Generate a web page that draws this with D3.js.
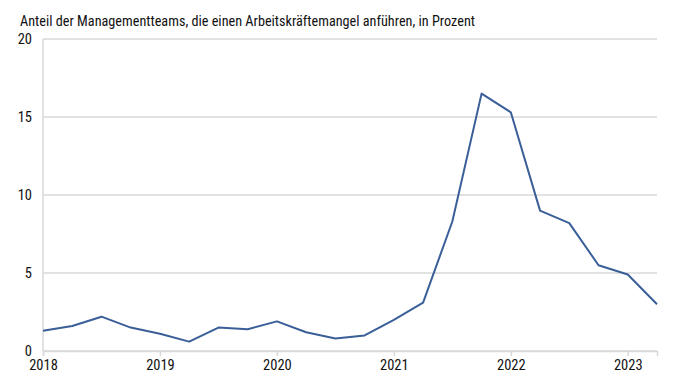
<!DOCTYPE html>
<html><head><meta charset="utf-8">
<script src="https://cdn.jsdelivr.net/npm/d3@7"></script>
<style>
body{margin:0;background:#fff;}
text{font-family:"Roboto Condensed","Liberation Sans Narrow","DejaVu Sans Condensed",sans-serif;fill:#111;}
</style></head>
<body><svg id="c" width="700" height="382"></svg>
<script>
const title = "Anteil der Managementteams, die einen Arbeitskräftemangel anführen, in Prozent";
const quarters = [2018.0,2018.25,2018.5,2018.75,2019.0,2019.25,2019.5,2019.75,2020.0,2020.25,2020.5,2020.75,2021.0,2021.25,2021.5,2021.75,2022.0,2022.25,2022.5,2022.75,2023.0,2023.25];
const values = [1.3,1.6,2.2,1.5,1.1,0.6,1.5,1.4,1.9,1.2,0.8,1.0,2.0,3.1,8.3,16.5,15.3,9.0,8.2,5.5,4.9,3.0];
const yTicks = [0,5,10,15,20];
const xTicks = [2018,2019,2020,2021,2022,2023];

const svg = d3.select("#c");
const x = d3.scaleLinear().domain([2018,2023.25]).range([43,657]);
const y = d3.scaleLinear().domain([0,20]).range([351,39]);

svg.append("text").attr("x",20).attr("y",26).attr("font-size",14.5)
  .attr("textLength",455).attr("lengthAdjust","spacingAndGlyphs").text(title);

// gridlines
svg.append("g").selectAll("line").data(yTicks).join("line")
  .attr("x1",x.range()[0]).attr("x2",x.range()[1])
  .attr("y1",d=>y(d)).attr("y2",d=>y(d))
  .attr("stroke","#d9d9d9").attr("stroke-width",1.5);

// y axis line
svg.append("line").attr("x1",43).attr("x2",43).attr("y1",y(20)).attr("y2",y(0))
  .attr("stroke","#d9d9d9").attr("stroke-width",1.5);

// y labels
svg.append("g").selectAll("text").data(yTicks).join("text")
  .attr("x",32).attr("y",d=>y(d)+5).attr("text-anchor","end").attr("font-size",14.5).text(d=>d);

// x axis
const xa = d3.axisBottom(x).tickValues(xTicks).tickFormat(d3.format("d")).tickSize(5).tickPadding(4);
const gx = svg.append("g").attr("transform",`translate(0,${y(0)})`).call(xa);
gx.select(".domain").attr("stroke","#d9d9d9").attr("stroke-width",1.5);
gx.selectAll(".tick line").attr("stroke","#d9d9d9").attr("stroke-width",1.5);
gx.selectAll(".tick text").attr("font-size",14.5).attr("fill","#111")
  .attr("font-family",'"Roboto Condensed","Liberation Sans Narrow","DejaVu Sans Condensed",sans-serif');

// line
const line = d3.line().x((d,i)=>x(quarters[i])).y(d=>y(d));
svg.append("path").datum(values).attr("d",line).attr("fill","none")
  .attr("stroke","#3a5f98").attr("stroke-width",2).attr("stroke-linejoin","round");
</script></body></html>
